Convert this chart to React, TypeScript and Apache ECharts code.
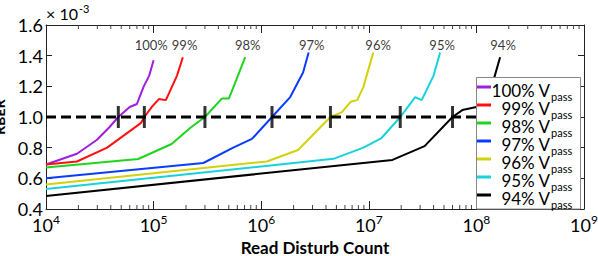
import React, { useEffect, useRef } from "react";
import * as echarts from "echarts";

const seriesNames = ["100%", "99%", "98%", "97%", "96%", "95%", "94%"];
const seriesColors = ["#9d1fe0", "#ff1010", "#1fd41f", "#0a3cff", "#d2d20a", "#16d2dc", "#000000"];

const x100 = [1e4, 1.94e4, 2.96e4, 3.9e4, 4.7e4, 6.0e4, 7.0e4, 8.1e4, 9.1e4, 1.0e5];
const y100 = [0.69, 0.76, 0.85, 0.935, 1.0, 1.065, 1.085, 1.2, 1.27, 1.37];
const x99 = [1e4, 1.94e4, 3.7e4, 7.6e4, 8.2e4, 9.6e4, 1.12e5, 1.3e5, 1.65e5, 1.87e5];
const y99 = [0.69, 0.71, 0.8, 0.96, 1.0, 1.065, 1.117, 1.11, 1.27, 1.39];
const x98 = [1e4, 7.2e4, 1.47e5, 2.2e5, 3.0e5, 4.3e5, 5.0e5, 5.7e5, 7.1e5];
const y98 = [0.67, 0.726, 0.824, 0.93, 1.0, 1.12, 1.12, 1.22, 1.39];
const x97 = [1e4, 2.9e5, 5.5e5, 8.2e5, 1.26e6, 1.86e6, 2.45e6, 2.76e6];
const y97 = [0.6, 0.7, 0.8, 0.857, 1.0, 1.13, 1.29, 1.42];
const x96 = [1e4, 1.13e6, 2.2e6, 4.4e6, 5.6e6, 6.8e6, 7.8e6, 8.9e6, 1.1e7];
const y96 = [0.56, 0.71, 0.785, 1.0, 1.03, 1.1, 1.11, 1.195, 1.42];
const x95 = [1e4, 4.7e6, 8.9e6, 1.3e7, 1.96e7, 2.7e7, 3.1e7, 4.0e7, 4.6e7];
const y95 = [0.53, 0.727, 0.8, 0.86, 1.0, 1.13, 1.11, 1.27, 1.42];
const x94 = [1e4, 1.66e7, 3.3e7, 6.0e7, 7.4e7, 1.0e8, 1.47e8, 1.66e8];
const y94 = [0.485, 0.72, 0.81, 1.0, 1.045, 1.065, 1.26, 1.39];

const seriesX = [x100, x99, x98, x97, x96, x95, x94];
const seriesY = [y100, y99, y98, y97, y96, y95, y94];

// threshold and crossing markers
const thresholdY = 1.0;
const crossingX = [4.7e4, 8.2e4, 3.0e5, 1.26e6, 4.4e6, 1.96e7, 6.0e7];

// percent labels above curves
const labelX = [9.5e4, 1.94e5, 7.5e5, 2.95e6, 1.22e7, 4.8e7, 1.77e8];
const labelY = 1.47;

const xMin = 1e4;
const xMax = 1e9;
const yMin = 0.4;
const yMax = 1.6;
const yStep = 0.2;

const FONT = "Lato, 'Open Sans', sans-serif";

// legend box layout (pixels)
const LEG_X = 476.5;
const LEG_Y = 77.5;
const LEG_W = 104;
const LEG_H = 131.5;
const LEG_ROW0 = 87;
const LEG_ROW = 18;

export default function App() {
  const ref = useRef<HTMLDivElement>(null);
  useEffect(() => {
    if (!ref.current) return;
    const chart = echarts.init(ref.current, undefined, { renderer: "svg" });

    const minorTicks: number[][] = [];
    for (let e = 4; e < 9; e++) {
      for (let m = 2; m <= 9; m++) minorTicks.push([m * Math.pow(10, e), yMin]);
    }

    const lineSeries = seriesNames.map((name, i) => ({
      name,
      type: "line",
      data: seriesX[i].map((x, j) => [x, seriesY[i][j]]),
      symbol: "none",
      lineStyle: { color: seriesColors[i], width: 2 },
      itemStyle: { color: seriesColors[i] },
      z: 2,
    }));

    const legendChildren: any[] = [
      {
        type: "rect",
        shape: { x: LEG_X, y: LEG_Y, width: LEG_W, height: LEG_H },
        style: { fill: "#fff", stroke: "#888", lineWidth: 1 },
      },
    ];
    seriesNames.forEach((name, i) => {
      const cy = LEG_ROW0 + i * LEG_ROW;
      legendChildren.push({
        type: "rect",
        shape: { x: 477, y: cy - 1.5, width: 14, height: 3 },
        style: { fill: seriesColors[i] },
      });
      legendChildren.push({
        type: "text",
        x: 550,
        y: cy + 3.5,
        style: {
          text: `${name} V`,
          fontSize: 17,
          fontFamily: FONT,
          fill: "#000",
          align: "right",
          verticalAlign: "middle",
          textAlign: "right",
          textVerticalAlign: "middle",
        },
      });
      legendChildren.push({
        type: "text",
        x: 551,
        y: cy + 9,
        style: {
          text: "pass",
          fontSize: 11,
          fontFamily: FONT,
          fill: "#000",
          align: "left",
          verticalAlign: "middle",
          textAlign: "left",
          textVerticalAlign: "middle",
        },
      });
    });

    const sup = (n: number) => `{b|10}{s|${n}}`;

    chart.setOption({
      animation: false,
      textStyle: { fontFamily: FONT },
      grid: { left: 46, right: 14, top: 25, bottom: 47, outerBoundsMode: "none", containLabel: false },
      xAxis: [
        {
          type: "log",
          logBase: 10,
          min: xMin,
          max: xMax,
          position: "bottom",
          axisLine: { lineStyle: { color: "#222", width: 1 } },
          axisTick: { inside: true, length: 8, lineStyle: { color: "#222" } },
          splitLine: { show: false },
          axisLabel: {
            margin: 4,
            color: "#000",
            formatter: (v: number) => sup(Math.round(Math.log10(v))),
            rich: {
              b: { fontSize: 18, fontFamily: FONT, color: "#000", verticalAlign: "middle" },
              s: { fontSize: 12, fontFamily: FONT, color: "#000", verticalAlign: "top", padding: [0, 0, 12, 0] },
            },
          },
          name: "Read Disturb Count",
          nameLocation: "middle",
          nameGap: 28,
          nameTextStyle: { fontSize: 17, lineHeight: 17, fontWeight: "bold", color: "#000", fontFamily: FONT },
        },
        {
          type: "log",
          logBase: 10,
          min: xMin,
          max: xMax,
          position: "top",
          axisLine: { lineStyle: { color: "#222", width: 1 } },
          axisTick: { inside: true, length: 8, lineStyle: { color: "#222" } },
          axisLabel: { show: false },
          splitLine: { show: false },
        },
      ],
      yAxis: [
        {
          type: "value",
          min: yMin,
          max: yMax,
          interval: yStep,
          position: "left",
          axisLine: { show: true, lineStyle: { color: "#222", width: 1 } },
          axisTick: { show: true, inside: true, length: 6, lineStyle: { color: "#222" } },
          splitLine: { show: false },
          axisLabel: {
            margin: 3,
            fontSize: 18,
            color: "#000",
            fontFamily: FONT,
            formatter: (v: number) => v.toFixed(1),
          },
          name: "RBER",
          nameLocation: "middle",
          nameGap: 30,
          nameTextStyle: { fontSize: 14, lineHeight: 14, fontWeight: "bold", color: "#000", fontFamily: FONT },
        },
        {
          type: "value",
          min: yMin,
          max: yMax,
          interval: yStep,
          position: "right",
          axisLine: { show: true, lineStyle: { color: "#222", width: 1 } },
          axisTick: { show: true, inside: true, length: 6, lineStyle: { color: "#222" } },
          axisLabel: { show: false },
          splitLine: { show: false },
        },
      ],
      graphic: [
        {
          type: "text",
          left: 46,
          top: 3,
          style: {
            text: "{a|× 10}{s|-3}",
            rich: {
              a: { fontSize: 16, fontFamily: FONT, fill: "#000", verticalAlign: "middle" } as any,
              s: { fontSize: 11, fontFamily: FONT, fill: "#000", verticalAlign: "top", padding: [0, 0, 10, 1] } as any,
            },
          },
        },
      ],
      series: [
        ...lineSeries,
        {
          name: "threshold",
          type: "line",
          data: [
            [xMin, thresholdY],
            [xMax, thresholdY],
          ],
          symbol: "none",
          lineStyle: { color: "#000", width: 3, type: [10, 5] },
          z: 3,
          silent: true,
        },
        {
          name: "crossings",
          type: "scatter",
          data: crossingX.map((x) => [x, thresholdY]),
          symbol: "rect",
          symbolSize: [3, 22],
          itemStyle: { color: "#000" },
          z: 4,
          silent: true,
        },
        {
          name: "percent labels",
          type: "scatter",
          data: labelX.map((x, i) => ({ value: [x, labelY], name: seriesNames[i] })),
          symbolSize: 0,
          itemStyle: { color: "#000" },
          label: {
            show: true,
            position: "inside",
            formatter: (p: any) => p.name,
            fontSize: 13,
            color: "#000",
            textBorderWidth: 0,
            fontFamily: FONT,
          },
          z: 4,
          silent: true,
        },
        {
          name: "minor ticks",
          type: "custom",
          data: minorTicks,
          silent: true,
          z: 1,
          renderItem: (params: any, api: any) => {
            const v = api.value(0);
            const b = api.coord([v, yMin]);
            const t = api.coord([v, yMax]);
            return {
              type: "group",
              children: [
                { type: "line", shape: { x1: b[0], y1: b[1], x2: b[0], y2: b[1] - 4 }, style: { stroke: "#444", lineWidth: 1 } },
                { type: "line", shape: { x1: t[0], y1: t[1], x2: t[0], y2: t[1] + 4 }, style: { stroke: "#444", lineWidth: 1 } },
              ],
            };
          },
        },
        {
          name: "legend box",
          type: "custom",
          data: [[xMin, yMin]],
          silent: true,
          clip: false,
          z: 20,
          renderItem: () => ({ type: "group", children: legendChildren }),
        },
      ],
    });
    return () => chart.dispose();
  }, []);
  return <div ref={ref} style={{ position: "absolute", left: 0, top: 0, width: 598, height: 256 }} />;
}
